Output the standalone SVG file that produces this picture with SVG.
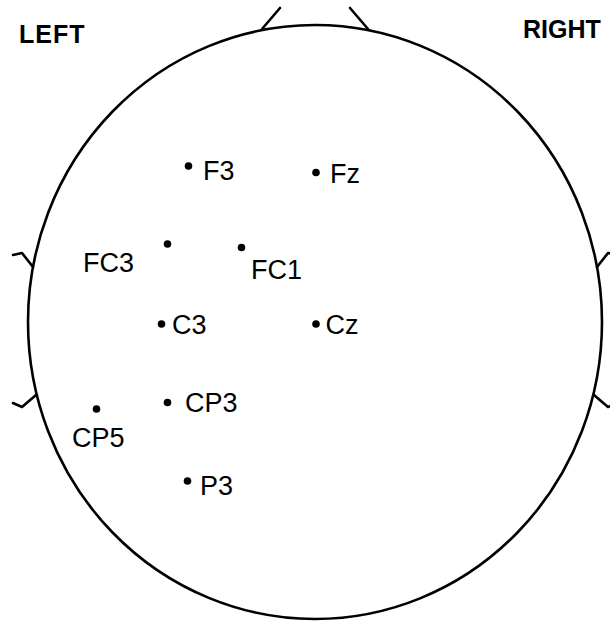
<svg xmlns="http://www.w3.org/2000/svg" width="610" height="621" viewBox="0 0 610 621">
<style>
.lbl{font-family:"Liberation Sans",Arial,sans-serif;font-size:27px;fill:#000}
.side{font-family:"Liberation Sans",Arial,sans-serif;font-size:25px;font-weight:bold;fill:#000}
.dot{fill:#000}
.line{fill:none;stroke:#000;stroke-width:2.6;stroke-linecap:round;stroke-linejoin:round}
</style>
<rect width="610" height="621" fill="#fff"/>
<g id="head">
<ellipse class="line" cx="315" cy="322" rx="287" ry="297"/>
<path class="line" d="M262,29 L280,8 M368,29 L350,8"/>
<path class="line" d="M33,267 L22,253 L13,255 M36,395 L22,407 L13,403"/>
<path class="line" d="M597,267 L608,253 L617,255 M594,395 L608,407 L617,403"/>
</g>
<text class="side" x="19" y="43" letter-spacing="1">LEFT</text>
<text class="side" x="523" y="38">RIGHT</text>
<g id="F3"><circle class="dot" cx="188.5" cy="166" r="3.8"/><text class="lbl" x="203" y="180">F3</text></g>
<g id="Fz"><circle class="dot" cx="316" cy="172.5" r="3.8"/><text class="lbl" x="330" y="183">Fz</text></g>
<g id="FC3"><circle class="dot" cx="167.5" cy="244" r="3.8"/><text class="lbl" x="83" y="272">FC3</text></g>
<g id="FC1"><circle class="dot" cx="241.5" cy="247.5" r="3.8"/><text class="lbl" x="251" y="278.5">FC1</text></g>
<g id="C3"><circle class="dot" cx="161.5" cy="324" r="3.8"/><text class="lbl" x="172" y="334">C3</text></g>
<g id="Cz"><circle class="dot" cx="316" cy="324" r="3.8"/><text class="lbl" x="325.5" y="334">Cz</text></g>
<g id="CP3"><circle class="dot" cx="167.5" cy="402.5" r="3.8"/><text class="lbl" x="185" y="412">CP3</text></g>
<g id="CP5"><circle class="dot" cx="96.5" cy="409" r="3.8"/><text class="lbl" x="72" y="447">CP5</text></g>
<g id="P3"><circle class="dot" cx="187.5" cy="481" r="3.8"/><text class="lbl" x="200" y="494.5">P3</text></g>
</svg>
